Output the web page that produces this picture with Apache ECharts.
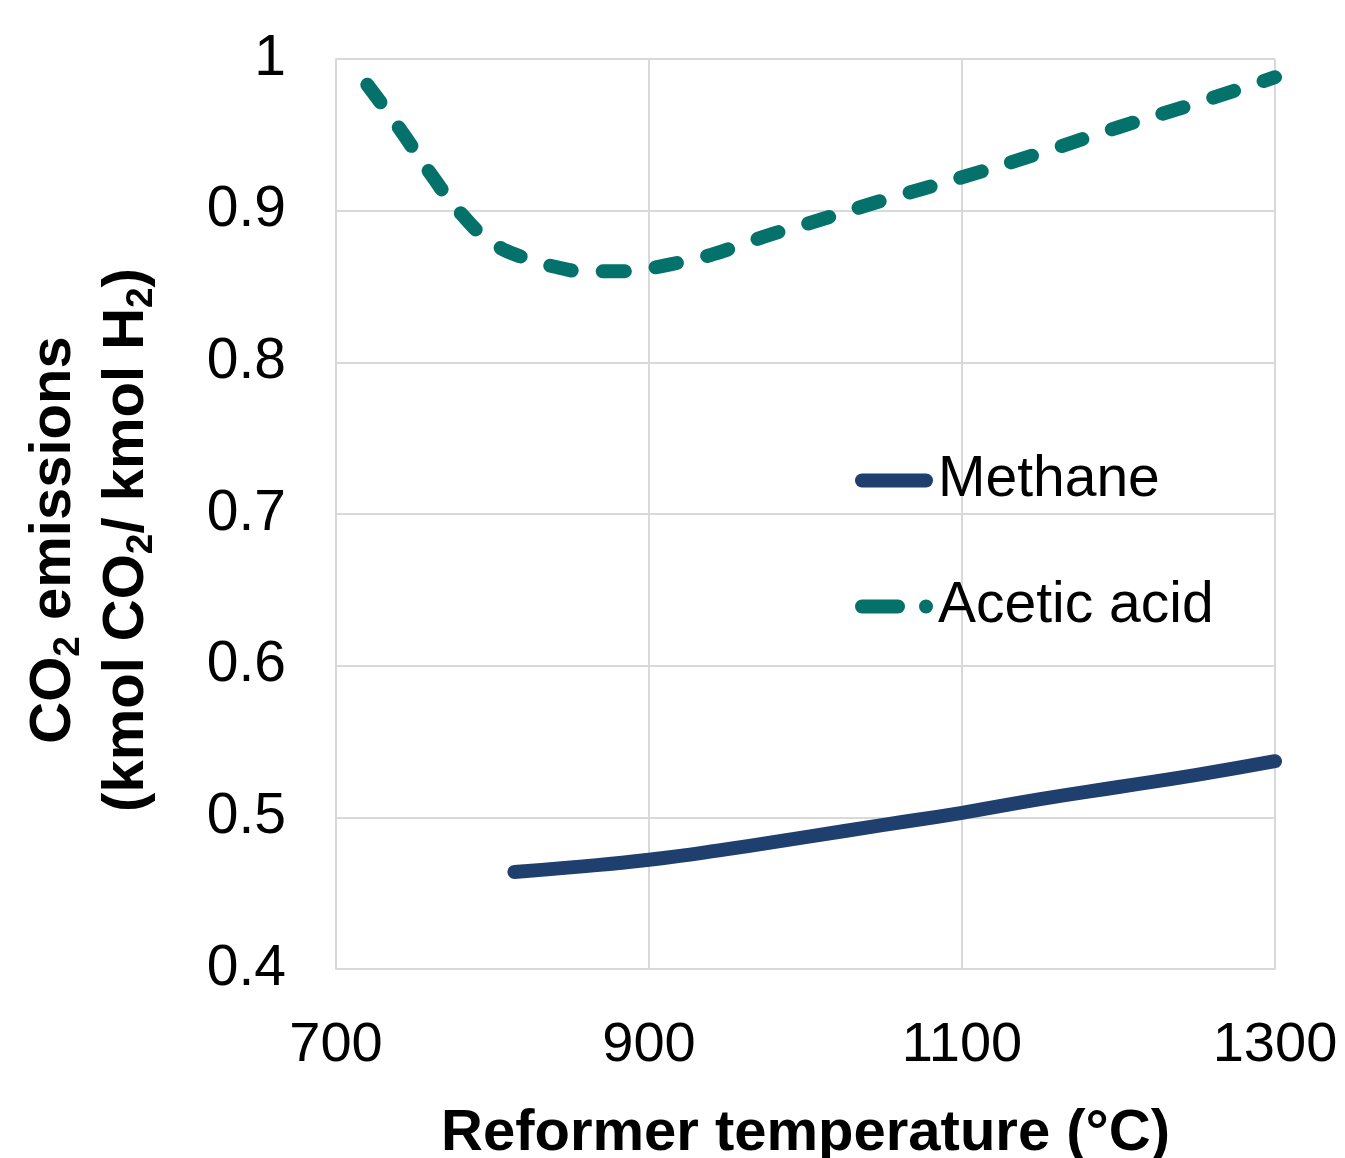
<!DOCTYPE html>
<html>
<head>
<meta charset="utf-8">
<script src="https://cdn.jsdelivr.net/npm/echarts@6/dist/echarts.min.js"></script>
<style>
  html, body { margin: 0; padding: 0; background: #fff; }
  #chart { width: 1345px; height: 1158px; }
</style>
</head>
<body>
<div id="chart"></div>
<script>
// reformer temperature (°C) vs CO2 emissions (kmol CO2 / kmol H2)
const methaneT = [814, 850, 900, 950, 1000, 1050, 1100, 1150, 1200, 1250, 1300];
const methaneV = [0.464, 0.467, 0.472, 0.479, 0.487, 0.495, 0.503, 0.512, 0.520, 0.528, 0.537];
const aceticT = [720, 740, 760, 780, 800, 820, 840, 860, 880, 900, 920, 940, 960, 980, 1000, 1050, 1100, 1150, 1200, 1250, 1300];
const aceticV = [0.983, 0.955, 0.925, 0.898, 0.879, 0.869, 0.863, 0.860, 0.860, 0.862, 0.866, 0.871, 0.878, 0.885, 0.891, 0.907, 0.922, 0.938, 0.955, 0.971, 0.988];
const seriesNames = ['Methane', 'Acetic acid'];

const pair = (xs, ys) => xs.map((x, i) => [x, ys[i]]);

const chart = echarts.init(document.getElementById('chart'));
const gridColor = '#d9d9d9';
const font = '"Liberation Sans", Arial, sans-serif';
const methaneColor = '#1f3f6e';
const aceticColor = '#05716b';

// legend icons: solid rounded bar, and dash + dot
const solidIcon = 'path://M7,0 H71 A7,7 0 0 1 71,14 H7 A7,7 0 0 1 7,0 Z';
const dashIcon = 'path://M7,0 H43 A7,7 0 0 1 43,14 H7 A7,7 0 0 1 7,0 Z M71,0 A7,7 0 0 1 71,14 A7,7 0 0 1 71,0 Z';

chart.setOption({
  backgroundColor: '#fff',
  animation: false,
  textStyle: { fontFamily: font },
  grid: { left: 336, right: 70, top: 59, bottom: 189, outerBoundsMode: 'none' },
  legend: {
    orient: 'vertical',
    left: 855,
    top: 452,
    padding: 0,
    itemWidth: 78,
    itemHeight: 14,
    itemGap: 69,
    data: [
      { name: seriesNames[0], icon: solidIcon, itemStyle: { color: methaneColor } },
      { name: seriesNames[1], icon: dashIcon, itemStyle: { color: aceticColor } }
    ],
    textStyle: { fontSize: 57, color: '#000', fontFamily: font }
  },
  xAxis: {
    type: 'value',
    min: 700,
    max: 1300,
    interval: 200,
    name: 'Reformer temperature (°C)',
    nameLocation: 'middle',
    nameGap: 136,
    nameTextStyle: { fontSize: 58, fontWeight: 'bold', color: '#000' },
    axisLine: { lineStyle: { color: gridColor, width: 2 } },
    axisTick: { show: false },
    axisLabel: { fontSize: 56, color: '#000', margin: 49, formatter: v => String(v) },
    splitLine: { show: true, lineStyle: { color: gridColor, width: 2 } }
  },
  yAxis: {
    type: 'value',
    min: 0.4,
    max: 1,
    interval: 0.1,
    axisLine: { show: true, lineStyle: { color: gridColor, width: 2 } },
    axisTick: { show: false },
    axisLabel: {
      fontSize: 57, color: '#000', margin: 50,
      formatter: v => String(Math.round(v * 10) / 10)
    },
    splitLine: { show: true, lineStyle: { color: gridColor, width: 2 } }
  },
  graphic: [{
    type: 'text',
    x: 90,
    y: 540,
    rotation: Math.PI / 2,
    style: {
      text: '{b|CO}{s|2}{b| emissions}\n{b|(kmol CO}{s|2}{b|/ kmol H}{s|2}{b|)}',
      align: 'center',
      verticalAlign: 'middle',
      fill: '#000',
      rich: {
        b: { fontSize: 58, fontWeight: 'bold', fontFamily: font, lineHeight: 73 },
        s: { fontSize: 37, fontWeight: 'bold', fontFamily: font, lineHeight: 73, padding: [30, 0, 0, 0] }
      }
    }
  }],
  series: [
    {
      name: seriesNames[0],
      type: 'line',
      smooth: true,
      showSymbol: false,
      symbol: 'none',
      data: pair(methaneT, methaneV),
      color: methaneColor,
      lineStyle: { width: 14, color: methaneColor, cap: 'round' }
    },
    {
      name: seriesNames[1],
      type: 'line',
      smooth: true,
      showSymbol: false,
      symbol: 'none',
      data: pair(aceticT, aceticV),
      color: aceticColor,
      lineStyle: { width: 14, color: aceticColor, type: [22, 31], cap: 'round' }
    }
  ]
});
</script>
</body>
</html>
